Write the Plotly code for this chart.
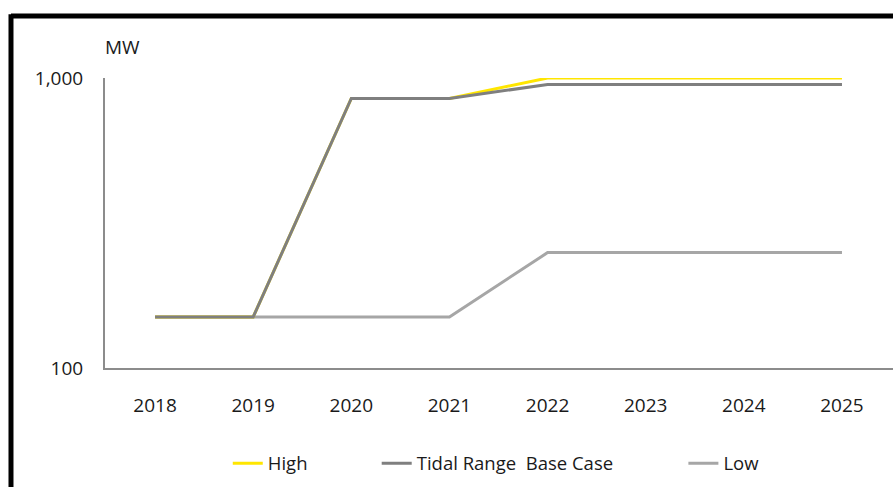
import plotly.graph_objects as go

years = ["2018", "2019", "2020", "2021", "2022", "2023", "2024", "2025"]
high = [150, 150, 850, 850, 1000, 1000, 1000, 1000]
base = [150, 150, 850, 850, 950, 950, 950, 950]
low = [150, 150, 150, 150, 250, 250, 250, 250]

FONT = "Open Sans"
fig = go.Figure()
fig.add_trace(go.Scatter(x=years, y=low, name="Low", mode="lines",
                         line=dict(color="#a6a6a6", width=3), legend="legend3"))
fig.add_trace(go.Scatter(x=years, y=high, name="High", mode="lines",
                         line=dict(color="#ffe600", width=3), legend="legend"))
fig.add_trace(go.Scatter(x=years, y=base, name="Tidal Range  Base Case", mode="lines",
                         line=dict(color="#7f7f7f", width=3), legend="legend2"))

leg_common = dict(orientation="h", xanchor="left", y=-0.33, yanchor="middle",
                  font=dict(size=18.5, family=FONT, color="#1a1a1a"),
                  bgcolor="rgba(0,0,0,0)")

fig.update_layout(
    width=893, height=487,
    margin=dict(l=105, r=0, t=78, b=119),
    paper_bgcolor="white", plot_bgcolor="white",
    font=dict(family=FONT, size=19, color="#1a1a1a"),
    showlegend=True,
    legend=dict(x=0.1558, **leg_common),
    legend2=dict(x=0.3448, **leg_common),
    legend3=dict(x=0.734, **leg_common),
    xaxis=dict(type="category", range=[-0.51, 7.52], showgrid=False, zeroline=False,
               showline=True, linecolor="#8c8c8c", linewidth=2, ticks="",
               ticklabelstandoff=19, tickfont=dict(size=19)),
    yaxis=dict(type="log", range=[2, 3], tickvals=[100, 1000], ticktext=["100", "1,000"],
               showgrid=False, zeroline=False, showline=True, linecolor="#8c8c8c",
               linewidth=2, ticks="", ticklabelstandoff=16, tickfont=dict(size=19)),
    annotations=[dict(text="MW", xref="paper", yref="paper", x=-0.003, y=1.107,
                      xanchor="left", yanchor="middle", showarrow=False,
                      font=dict(size=19))],
    shapes=[
        dict(type="line", xref="paper", yref="paper", x0=-0.1193, x1=1.1,
             y0=1.2138, y1=1.2138, line=dict(color="black", width=5)),
        dict(type="line", xref="paper", yref="paper", x0=-0.1193, x1=-0.1193,
             y0=1.22, y1=-0.5, line=dict(color="black", width=5)),
    ],
)
fig.write_html(
    "out.html",
    config={"displayModeBar": False},
    post_script="document.body.style.margin='0';document.body.style.overflow='hidden';",
)
